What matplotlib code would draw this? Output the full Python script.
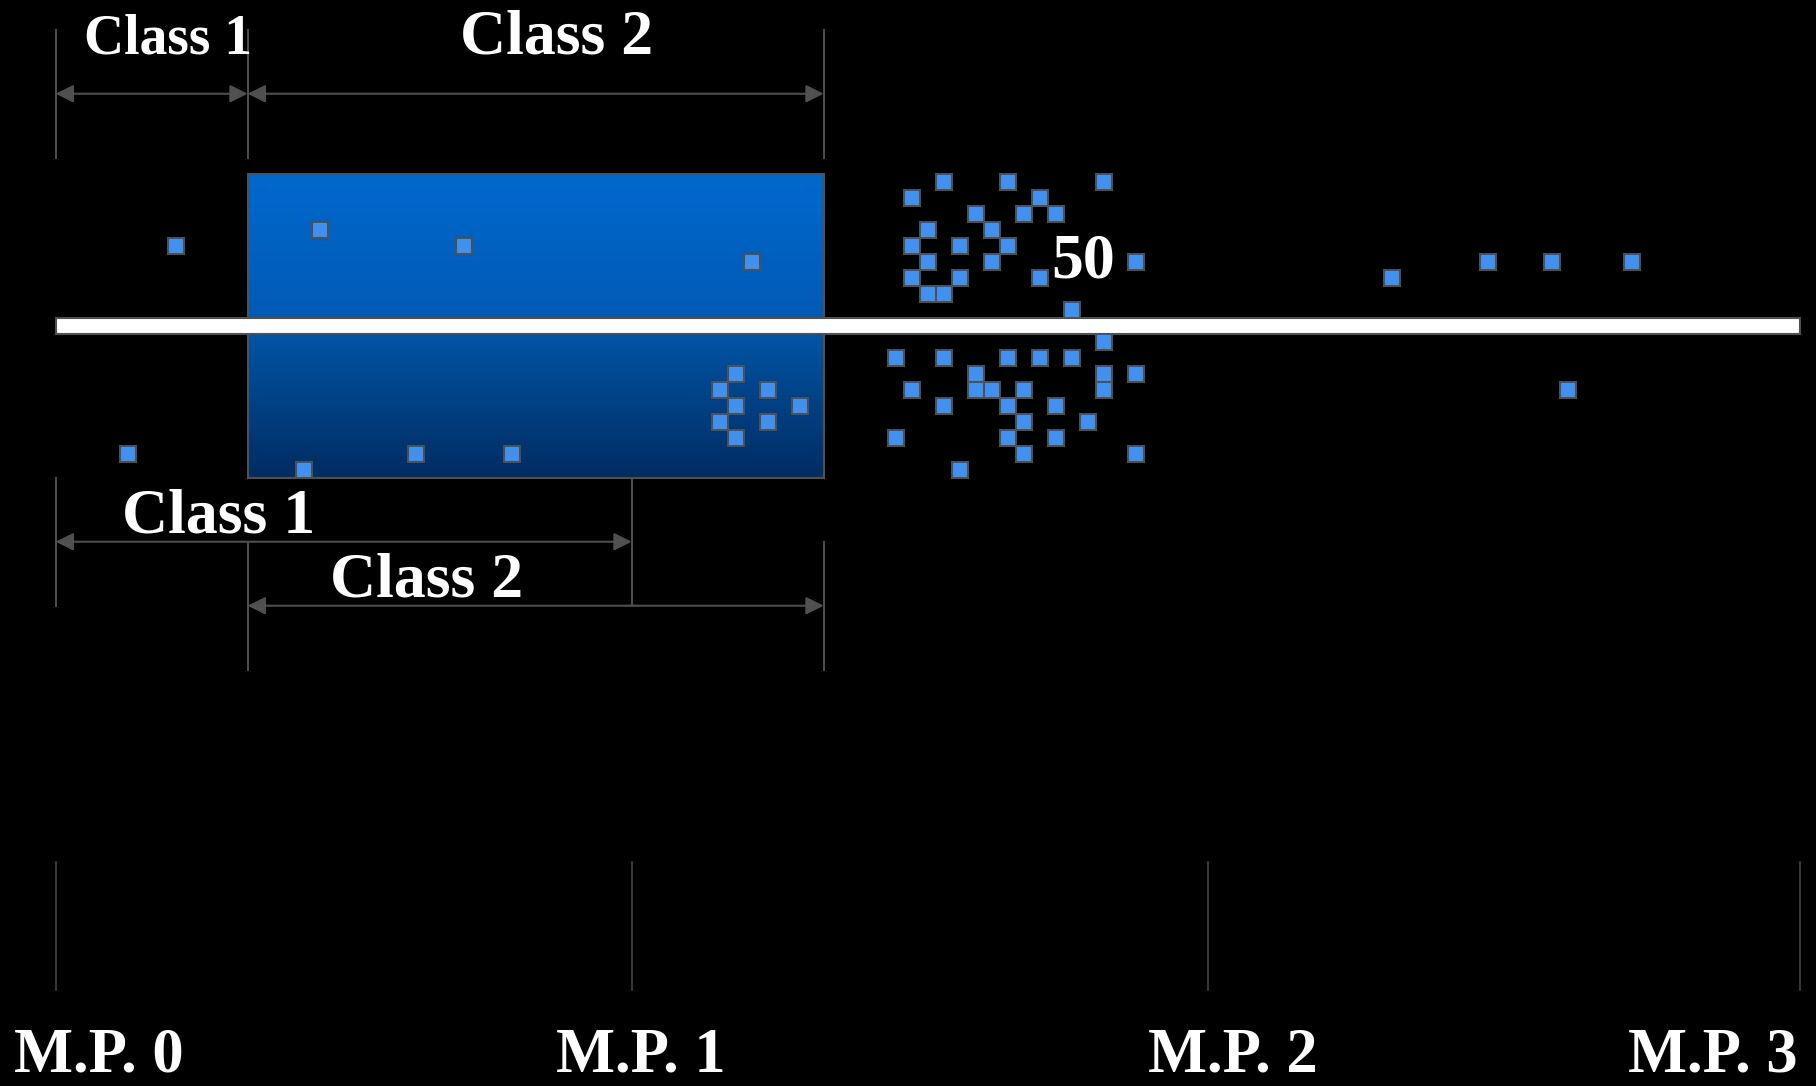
import numpy as np
import matplotlib
matplotlib.use('Agg')
import matplotlib.pyplot as plt
from matplotlib.patches import Rectangle

# grid units: 1 cell = one square; u = along the axis (M.P. 0 at 0), w = offset from the bar (down is +)
mp_labels = ['M.P. 0', 'M.P. 1', 'M.P. 2', 'M.P. 3']
mp_pos = [0, 36, 72, 109]
mp_label_pos = [2.7, 36.6, 73.6, 103.6]

box_u = (12, 48)
box_w = (-9.5, 9.5)

# squares above the bar (cell centres)
top_u = [7.5, 16.5, 25.5, 43.5,
         55.5, 59.5, 65.5, 53.5, 61.5, 57.5, 60.5, 62.5, 54.5, 58.5, 53.5, 56.5, 59.5,
         67.5, 54.5, 58.5, 53.5, 56.5, 61.5, 54.5, 55.5, 63.5,
         83.5, 89.5, 93.5, 98.5]
top_w = [-5, -6, -5, -4,
         -9, -9, -9, -8, -8, -7, -7, -7, -6, -6, -5, -5, -5,
         -4, -4, -4, -3, -3, -3, -2, -2, -1,
         -3, -4, -4, -4]

# squares below the bar
bot_u = [4.5, 15.5, 22.5, 28.5,
         42.5, 41.5, 44.5, 42.5, 46.5, 41.5, 44.5, 42.5,
         65.5, 52.5, 55.5, 59.5, 61.5, 63.5, 57.5, 65.5, 67.5, 53.5, 57.5, 58.5, 60.5, 65.5,
         55.5, 59.5, 62.5, 60.5, 64.5, 52.5, 59.5, 62.5, 60.5, 67.5, 56.5,
         94.5]
bot_w = [8, 9, 8, 8,
         3, 4, 4, 5, 5, 6, 6, 7,
         1, 2, 2, 2, 2, 2, 3, 3, 3, 4, 4, 4, 4, 4,
         5, 5, 5, 6, 6, 7, 7, 7, 8, 8, 9,
         4]

# dimension arrows: (start, end, w, label, label_u, label_w, fontsize)
dims = [(0, 12, -14.5, 'Class 1', 7.0, -17.0, 40),
        (12, 48, -14.5, 'Class 2', 31.3, -17.0, 46),
        (0, 36, 13.5, 'Class 1', 10.2, 12.95, 46),
        (12, 48, 17.5, 'Class 2', 23.2, 16.9, 46)]

# extension lines: (u, w from, w to)
ext_lines = [(0, -18.5, -10.5), (12, -18.5, -10.5), (48, -18.5, -10.5),
             (0, 9.5, 17.5), (36, 9.5, 17.5), (12, 13.5, 21.5), (48, 13.5, 21.5)]

center_label = '50'
center_label_pos = (64.2, -3.0)

grey = '#505050'
sq_face = '#4091F0'
font = dict(family='Liberation Serif', weight='bold', color='white')

fig = plt.figure(figsize=(18.16, 10.86), dpi=100, facecolor='black')
ax = fig.add_axes([0, 0, 1, 1])
ax.set_facecolor('black')

# gradient box
ww = np.linspace(box_w[0], box_w[1], 300)
stops_w = [-9.5, -0.5, 0.5, 9.5]
r = np.zeros_like(ww)
g = np.interp(ww, stops_w, [105, 90, 84, 44]) / 255
b = np.interp(ww, stops_w, [205, 182, 165, 98]) / 255
grad = np.stack([r, g, b], axis=1)[:, None, :]
ax.imshow(grad, extent=(box_u[0], box_u[1], box_w[1], box_w[0]), origin='upper',
          aspect='auto', zorder=1, interpolation='bilinear')
ax.add_patch(Rectangle((box_u[0], box_w[0]), box_u[1] - box_u[0], box_w[1] - box_w[0],
                       facecolor='none', edgecolor=grey, lw=1.5, zorder=2))

# white bar
ax.add_patch(Rectangle((mp_pos[0], -0.5), mp_pos[-1] - mp_pos[0], 1.0,
                       facecolor='white', edgecolor=grey, lw=1.5, zorder=3))

# squares
for u, w in zip(top_u + bot_u, top_w + bot_w):
    ax.add_patch(Rectangle((u - 0.5, w - 0.5), 1, 1, facecolor=sq_face,
                           edgecolor=grey, lw=1.45, zorder=4))

# extension lines and M.P. ticks
for u, w0, w1 in ext_lines:
    ax.plot([u, u], [w0, w1], color=grey, lw=1.4, zorder=2)
for u in mp_pos:
    ax.plot([u, u], [33.5, 41.5], color='#444444', lw=1.2, zorder=2)

# arrows + labels
for a, b_, w, lab, lu, lw_, fs in dims:
    ax.annotate('', xy=(b_, w), xytext=(a, w),
                arrowprops=dict(arrowstyle='<|-|>', color=grey, lw=1.5,
                                mutation_scale=27, shrinkA=0, shrinkB=0), zorder=5)
    ax.text(lu, lw_, lab, ha='center', va='baseline', fontsize=fs, zorder=6, **font)

ax.text(center_label_pos[0], center_label_pos[1], center_label, ha='center',
        va='baseline', fontsize=46, zorder=6, **font)

for lab, u in zip(mp_labels, mp_label_pos):
    ax.text(u, 46.6, lab, ha='center', va='baseline', fontsize=45, **font)

ax.set_xlim(-3.48, 110.02)
ax.set_ylim(47.52, -20.36)
ax.axis('off')

plt.savefig('out.png', dpi=100, facecolor='black')
